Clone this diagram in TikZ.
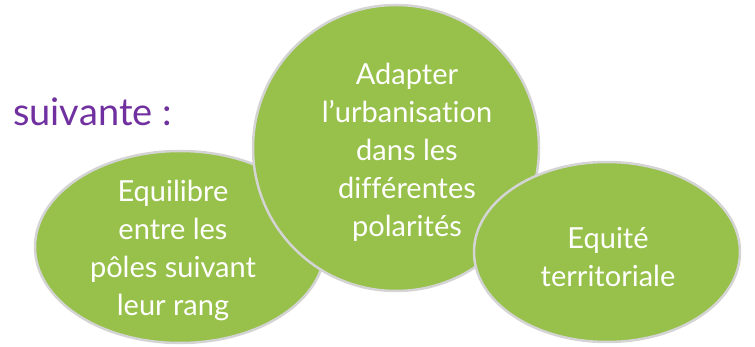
\documentclass[tikz,border=0pt]{standalone}
\usepackage{fontspec}
\setmainfont{Lato}[Ligatures=NoCommon]
\definecolor{leaf}{HTML}{97C14A}
\definecolor{rim}{HTML}{D4D4D4}
\definecolor{violet}{HTML}{7030A0}
\tikzset{
  bubble/.style={fill=leaf, draw=rim, line width=2.5pt},
  btext/.style={text=white, align=center, font=\fontsize{29}{38}\selectfont, inner sep=0pt}
}
\begin{document}
\begin{tikzpicture}[x=1pt,y=-1pt]
\useasboundingbox (0,0) rectangle (755,347);
\filldraw[bubble] (180,247) ellipse [x radius=145, y radius=96];
\filldraw[bubble] (396,148) ellipse [x radius=143, y radius=143];
\filldraw[bubble] (607,252) ellipse [x radius=133, y radius=90];
\node[btext] (t1) at (173,250) {Equilibre\\entre les\\pôles suivant\\leur rang};
\node[btext] (t2) at (407,152) {Adapter\\l’urbanisation\\dans les\\différentes\\polarités};
\node[btext] (t3) at (608,257) {Equité\\territoriale};
\node[text=violet, font=\fontsize{38}{44}\selectfont, anchor=west, inner sep=0pt] (t0) at (13,112) {suivante :};
\end{tikzpicture}
\end{document}
